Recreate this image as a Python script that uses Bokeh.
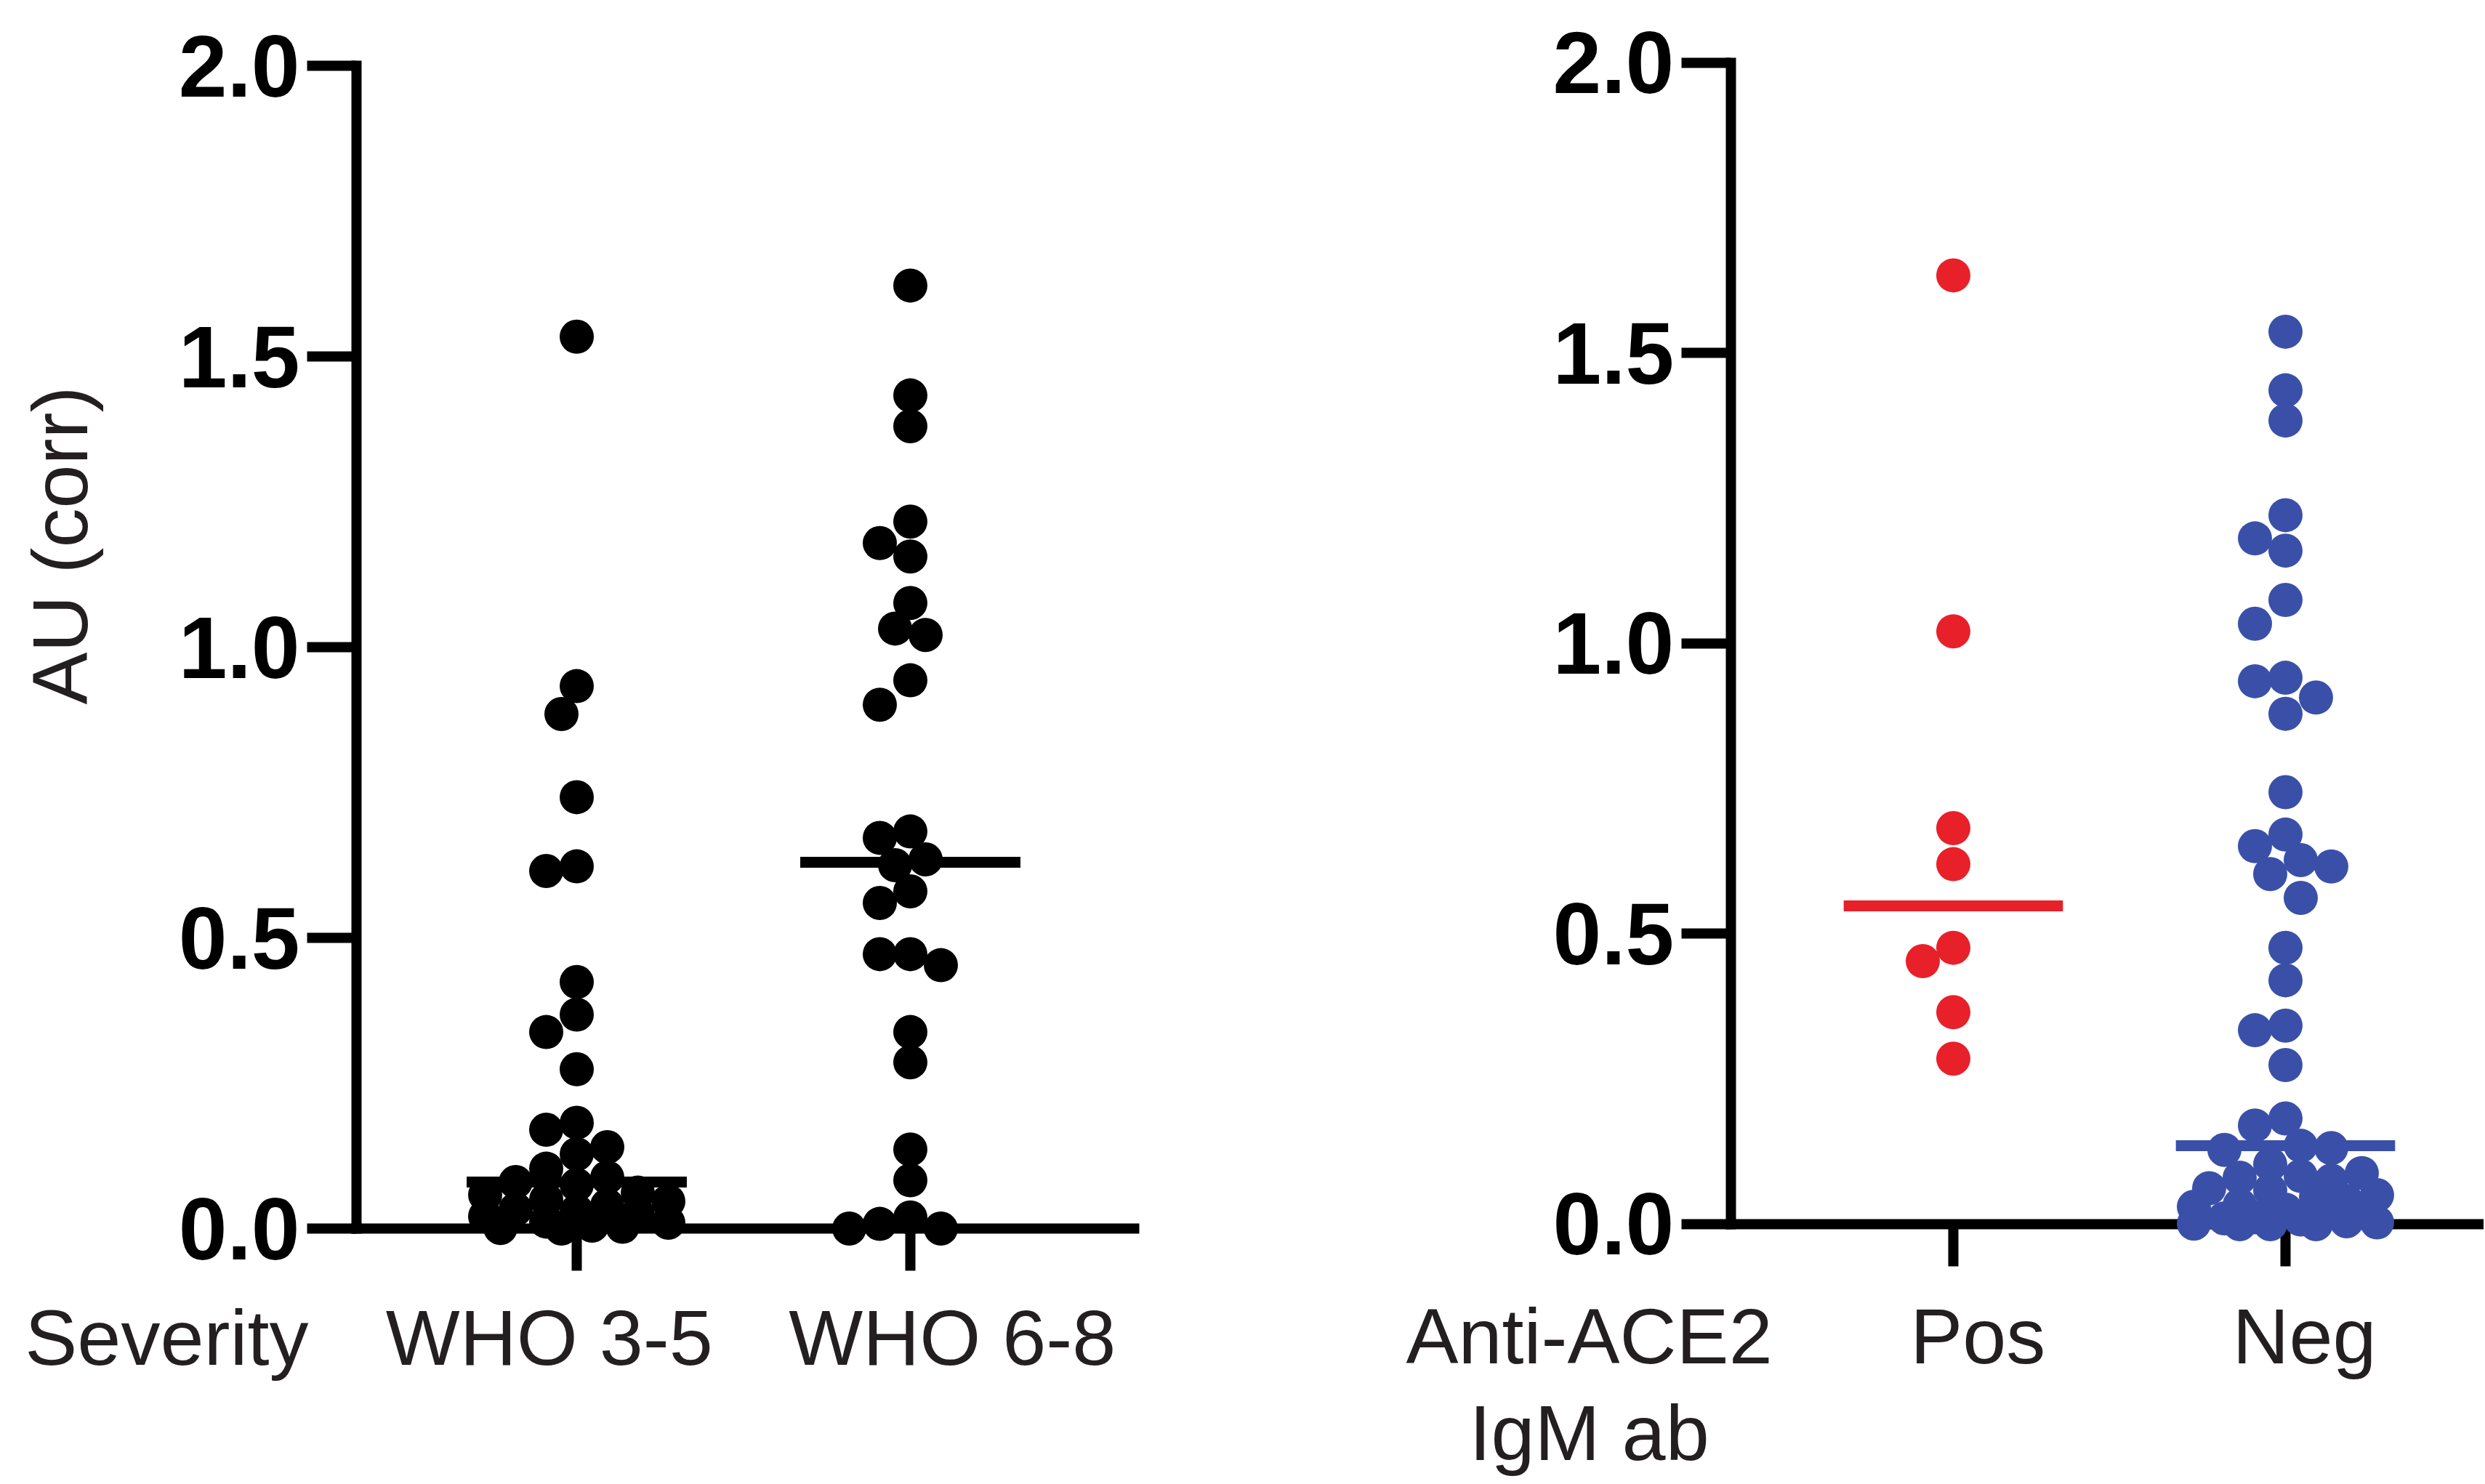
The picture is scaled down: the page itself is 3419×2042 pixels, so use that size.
import numpy as np
from bokeh.plotting import figure
from bokeh.models import Range1d, FixedTicker, Label, NumeralTickFormatter, LinearAxis
from bokeh.layouts import row
from bokeh.embed import file_html
from bokeh.resources import INLINE

# ---------------- data ----------------
severity_groups = ["WHO 3-5", "WHO 6-8"]
who_3_5 = [1.534, 0.933, 0.885, 0.742, 0.623, 0.615, 0.424, 0.368, 0.338, 0.274,
           0.182, 0.170, 0.140, 0.128, 0.103, 0.088, 0.080, 0.075, 0.062, 0.058,
           0.050, 0.047, 0.040, 0.033, 0.030, 0.025, 0.021, 0.012, 0.010, 0.005,
           0.003, 0.001, 0.000]
who_6_8 = [1.622, 1.433, 1.380, 1.216, 1.179, 1.156, 1.076, 1.032, 1.021, 0.943,
           0.901, 0.683, 0.672, 0.635, 0.625, 0.580, 0.560, 0.472, 0.472, 0.453,
           0.338, 0.286, 0.136, 0.083, 0.019, 0.008, 0.000, 0.000]

ace2_groups = ["Pos", "Neg"]
ace2_pos = [1.634, 1.021, 0.682, 0.620, 0.476, 0.453, 0.365, 0.285]
ace2_neg = [1.537, 1.436, 1.384, 1.221, 1.181, 1.160, 1.075, 1.034, 0.941, 0.935,
            0.907, 0.879, 0.744, 0.671, 0.651, 0.627, 0.616, 0.603, 0.562, 0.476,
            0.420, 0.342, 0.334, 0.274, 0.182, 0.170, 0.135, 0.131, 0.128, 0.103,
            0.088, 0.083, 0.080, 0.075, 0.062, 0.058, 0.050, 0.047, 0.040, 0.033,
            0.030, 0.025, 0.021, 0.019, 0.012, 0.010, 0.008, 0.005, 0.003, 0.001,
            0.000, 0.000, 0.000]

y_ticks = [0.0, 0.5, 1.0, 1.5, 2.0]
y_axis_title = "AU (corr)"
left_x_title = ["Severity"]
right_x_title = ["Anti-ACE2", "IgM ab"]

FONT = "Liberation Sans"
TEXT_COLOR = "#231f20"
DOT_SIZE = 47
LABEL_SIZE = "108px"


def swarm(vals, center, xscale, yscale, diam=DOT_SIZE, step=21, kmax=6, sep=0.86):
    """Simple beeswarm: place points (descending) in the first free slot."""
    vals = np.asarray(vals, dtype=float)
    order = np.argsort(-vals, kind="stable")
    cands = [0]
    for k in range(1, kmax + 1):
        cands += [-k, k]
    placed = []
    xs = np.zeros(len(vals))
    for i in order:
        py = vals[i] * yscale
        best, bestd = 0, -1.0
        for k in cands:
            px = k * step
            d = min((np.hypot(px - qx, py - qy) for qx, qy in placed), default=1e9)
            if d >= sep * diam:
                best = px
                break
            if d > bestd:
                bestd, best = d, px
        placed.append((best, py))
        xs[i] = center + best / xscale
    return xs


def text_label(p, x, y, text, **kw):
    opts = dict(text_align="center", text_baseline="alphabetic", text_font=FONT,
                text_font_size=LABEL_SIZE, text_color=TEXT_COLOR)
    opts.update(kw)
    p.add_layout(Label(x=x, y=y, text=text, **opts))


def make_panel(groups, series, colors, xr, yr, axis_x, x_axis_end, width, height,
               label_dx, label_y):
    p = figure(width=width, height=height,
               x_range=Range1d(*xr), y_range=Range1d(*yr),
               x_axis_location=None, y_axis_location=None,
               output_backend="svg", toolbar_location=None,
               min_border_left=0, min_border_right=0,
               min_border_top=0, min_border_bottom=0)
    p.outline_line_color = None
    p.xgrid.visible = False
    p.ygrid.visible = False
    p.background_fill_color = "white"
    p.border_fill_color = "white"

    xscale = width / (xr[1] - xr[0])
    yscale = height / (yr[1] - yr[0])

    yax = LinearAxis(fixed_location=axis_x, bounds=(0, 2))
    xax = LinearAxis(fixed_location=0, bounds=(axis_x, x_axis_end))
    for axis in (xax, yax):
        axis.axis_line_width = 14
        axis.axis_line_color = "black"
        axis.axis_line_cap = "square"
        axis.major_tick_line_width = 14
        axis.major_tick_line_color = "black"
        axis.major_tick_in = 0
        axis.minor_tick_line_color = None

    yax.ticker = FixedTicker(ticks=y_ticks)
    yax.formatter = NumeralTickFormatter(format="0.0")
    yax.major_tick_out = 68
    yax.major_label_standoff = 10
    yax.major_label_text_font = FONT
    yax.major_label_text_font_style = "bold"
    yax.major_label_text_font_size = "120px"
    yax.major_label_text_color = "black"

    xax.ticker = FixedTicker(ticks=list(range(1, len(groups) + 1)))
    xax.major_tick_out = 58
    xax.major_label_text_color = None   # category names drawn as labels below

    p.add_layout(yax, "left")
    p.add_layout(xax, "below")

    for i, (vals, col) in enumerate(zip(series, colors)):
        c = i + 1
        med = float(np.median(vals))
        p.segment(x0=[c - 0.33], x1=[c + 0.33], y0=[med], y1=[med],
                  line_width=15, line_color=col)
        xs = swarm(vals, c, xscale, yscale)
        p.scatter(x=xs, y=vals, size=DOT_SIZE, fill_color=col, line_color=None,
                  level="overlay")
        text_label(p, c + label_dx[i], label_y, groups[i])
    return p


# left panel: frame spans whole figure; axes at fixed data locations
left = make_panel(severity_groups, [who_3_5, who_6_8], ["black", "black"],
                  (-0.7277, 2.9935), (-0.4375, 2.1125), 0.3399, 2.671, 1708, 2040,
                  [-0.082, 0.126], -0.1875)
text_label(left, -0.229, -0.1875, left_x_title[0])
text_label(left, -0.549, 1.175, y_axis_title, angle=np.pi / 2, text_baseline="middle")

right = make_panel(ace2_groups, [ace2_pos, ace2_neg], ["#e8202a", "#3a50a8"],
                   (-1.1422, 2.5974), (-0.4456, 2.1076), 0.330, 2.5974, 1709, 2040,
                   [0.074, 0.057], -0.1927)
text_label(right, -0.096, -0.1927, right_x_title[0])
text_label(right, -0.096, -0.3592, right_x_title[1])

layout = row(left, right)
open("out.html", "w").write(file_html(layout, INLINE))
